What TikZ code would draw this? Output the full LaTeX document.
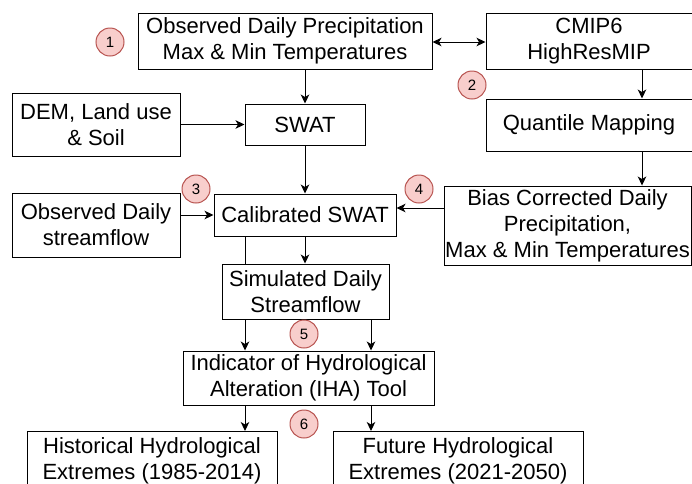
\documentclass[tikz,border=0pt]{standalone}
\usepackage{fontspec}
\setmainfont{Liberation Sans}
\usetikzlibrary{arrows.meta,calc}
\pgfdeclarelayer{background}
\pgfsetlayers{background,main}
\definecolor{badgefill}{HTML}{F8CECC}
\definecolor{badgeline}{HTML}{B85450}
\tikzset{
  box/.style={draw=black, line width=1pt, fill=white, inner sep=0pt, align=center,
    font=\fontsize{22}{26}\selectfont, text=black},
  arr/.style={line width=1pt, draw=black, -{Stealth[length=9pt,width=8.5pt,inset=2.5pt]}},
  darr/.style={line width=1pt, draw=black, {Stealth[length=9pt,width=8.5pt,inset=2.5pt]}-{Stealth[length=9pt,width=8.5pt,inset=2.5pt]}},
  badge/.style={circle, draw=badgeline, fill=badgefill, line width=1pt, minimum size=28pt,
    inner sep=0pt, font=\fontsize{15}{15}\selectfont}
}
\begin{document}
\begin{tikzpicture}[x=1pt,y=-1pt]
\clip (0,0) rectangle (692,483);
% boxes
\node[box, minimum width=294pt, minimum height=56pt] (obs) at (285,41) {Observed Daily Precipitation\\Max \& Min Temperatures};
\node[box, minimum width=206pt, minimum height=56pt] (cmip) at (589,41) {CMIP6\\HighResMIP};
\node[box, minimum width=168pt, minimum height=63pt] (dem) at (96,124.5) {DEM, Land use\\\& Soil};
\node[box, minimum width=120pt, minimum height=41pt] (swat) at (305,124.5) {SWAT};
\node[box, minimum width=206pt, minimum height=52pt] (qm) at (589,125) {Quantile Mapping};
\node[box, minimum width=247pt, minimum height=79pt] (bias) at (567.5,225.5) {Bias Corrected Daily\\Precipitation,\\Max \& Min Temperatures};
\node[box, minimum width=182pt, minimum height=42pt] (cal) at (305,215) {Calibrated SWAT};
\node[box, minimum width=168pt, minimum height=64pt] (obsflow) at (96,225) {Observed Daily\\streamflow};
\node[box, minimum width=167pt, minimum height=55pt] (sim) at (305.5,291.5) {Simulated Daily\\Streamflow};
\node[box, minimum width=251pt, minimum height=54pt] (iha) at (308.5,378) {Indicator of Hydrological\\Alteration (IHA) Tool};
\node[box, minimum width=250pt, minimum height=59pt, anchor=north] (hist) at (152,431) {Historical Hydrological\\Extremes (1985-2014)};
\node[box, minimum width=250pt, minimum height=59pt, anchor=north] (fut) at (458,431) {Future Hydrological\\Extremes (2021-2050)};
% helper coordinates
\coordinate (xq) at (642,0);
\coordinate (xl) at (245,0);
\coordinate (xr) at (371,0);
\coordinate (yb) at (0,208);
% connectors
\begin{pgfonlayer}{background}
\fill[white] (0,0) rectangle (692,483);
\draw[darr] (obs.east |- 0,42) -- (cmip.west |- 0,42);
\draw[arr] (swat.north |- obs.south) -- (swat.north);
\draw[arr] (xq |- cmip.south) -- (xq |- qm.north);
\draw[arr] (xq |- qm.south) -- (xq |- bias.north);
\draw[arr] (dem.east) -- (swat.west);
\draw[arr] (swat.south) -- (cal.north);
\draw[arr] (obsflow.east |- cal.west) -- (cal.west);
\draw[arr] (bias.west |- yb) -- (cal.east |- yb);
\draw[arr] (cal.south) -- (sim.north -| cal.south);
\draw[arr] (xl |- cal.south) -- (xl |- iha.north);
\draw[arr] (xr |- sim.south) -- (xr |- iha.north);
\draw[arr] (xl |- iha.south) -- (xl |- hist.north);
\draw[arr] (xr |- iha.south) -- (xr |- fut.north);
\end{pgfonlayer}
% badges
\node[badge] (b1) at (110,42) {1};
\node[badge] (b2) at (472,85) {2};
\node[badge] (b3) at (196,189) {3};
\node[badge] (b4) at (419,189) {4};
\node[badge] (b5) at (304,334) {5};
\node[badge] (b6) at (304,424) {6};
\end{tikzpicture}
\end{document}
